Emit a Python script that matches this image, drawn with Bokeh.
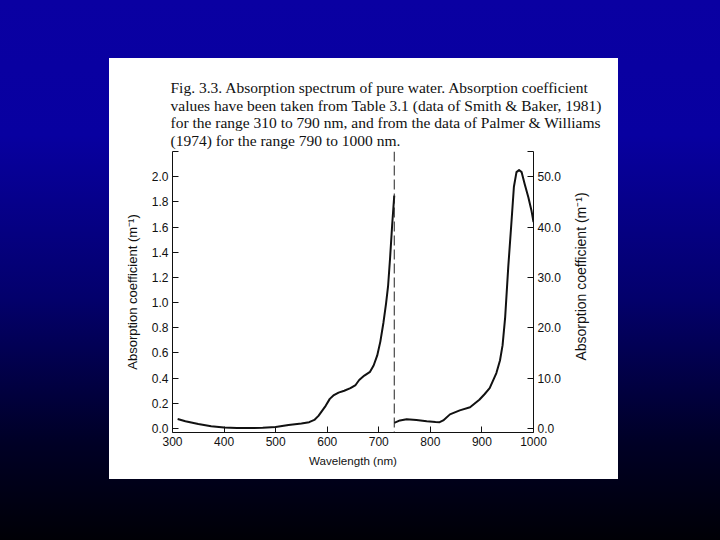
import math
from bokeh.plotting import figure
from bokeh.models import (Range1d, LinearAxis, FixedTicker, PrintfTickFormatter,
                          Span, Spacer, GlobalInlineStyleSheet)
from bokeh.core.properties import value
from bokeh.layouts import column, row
from bokeh.embed import file_html
from bokeh.resources import INLINE

# ---------------- data ----------------
caption_lines = [
    "Fig. 3.3. Absorption spectrum of pure water. Absorption coefficient",
    "values have been taken from Table 3.1 (data of Smith & Baker, 1981)",
    "for the range 310 to 790 nm, and from the data of Palmer & Williams",
    "(1974) for the range 790 to 1000 nm.",
]

# left section (left axis, m^-1)
wl_left = [310, 325, 350, 375, 400, 425, 450, 475, 500, 525, 550, 565, 575, 583,
           590, 597, 605, 613, 622, 633, 645, 655, 662, 672, 683, 690, 697, 703,
           709, 714, 718, 722, 726, 730]
abs_left = [0.075, 0.058, 0.035, 0.018, 0.008, 0.004, 0.003, 0.005, 0.012, 0.028,
            0.040, 0.050, 0.068, 0.100, 0.140, 0.180, 0.235, 0.265, 0.285, 0.300,
            0.320, 0.345, 0.385, 0.420, 0.450, 0.500, 0.580, 0.690, 0.840, 0.990,
            1.130, 1.360, 1.620, 1.850]

# right section (right axis, m^-1)
wl_right = [730, 741, 754, 773, 793, 810, 818, 825, 838, 857, 877, 895, 905, 915,
            928, 935, 940, 945, 951, 957, 962, 967, 972, 977, 983, 990, 996, 1000]
abs_right = [1.1, 1.6, 1.85, 1.7, 1.45, 1.3, 1.25, 1.6, 2.8, 3.6, 4.2, 5.7, 6.8, 8.0,
             11.0, 13.5, 16.5, 22.0, 32.0, 40.6, 48.0, 50.9, 51.3, 50.9, 48.5, 45.9,
             43.3, 41.0]

left_ticks = [0.0, 0.2, 0.4, 0.6, 0.8, 1.0, 1.2, 1.4, 1.6, 1.8, 2.0, 2.2]
right_ticks = [0.0, 10.0, 20.0, 30.0, 40.0, 50.0, 55.0]
x_ticks = [300, 400, 500, 600, 700, 800, 900, 1000]
divider_nm = 730

x_label = "Wavelength (nm)"
y_label = "Absorption coefficient (m\u207b\u00b9)"

# ---------------- styling constants ----------------
SANS = "Liberation Sans"
SERIF = "Liberation Serif"
INK = "#111111"
PANEL_W = 509
CAP_H = 93
PLOT_H = 328
RIGHT_STRIP_W = 48


def no_align(fig):
    if "frame_align" in fig.properties():
        fig.frame_align = False


# ---------------- caption strip ----------------
cap = figure(width=PANEL_W, height=CAP_H, x_range=Range1d(0, PANEL_W),
             y_range=Range1d(0, CAP_H), output_backend="svg", toolbar_location=None,
             x_axis_location=None, y_axis_location=None, min_border=0,
             background_fill_color="white", border_fill_color="white")
cap.outline_line_color = None
cap.grid.visible = False
no_align(cap)
cap_x0, cap_first_baseline, cap_step = 61, 28.7, 17.8
cap.text(x=[cap_x0] * len(caption_lines),
         y=[CAP_H - (cap_first_baseline + i * cap_step) for i in range(len(caption_lines))],
         text=caption_lines, text_font=value(SERIF), text_font_size="15.5px",
         text_color=INK, text_align="left", text_baseline="alphabetic")

# ---------------- main chart ----------------
p = figure(width=PANEL_W - RIGHT_STRIP_W, height=PLOT_H,
           x_range=Range1d(300, 1000), y_range=Range1d(-0.032, 2.2),
           output_backend="svg", toolbar_location=None,
           min_border_left=63, min_border_right=37,
           min_border_top=0, min_border_bottom=47,
           background_fill_color="white", border_fill_color="white")
p.outline_line_color = None
p.extra_y_ranges = {"right": Range1d(-0.8, 55.0)}
p.xgrid.grid_line_color = None
p.ygrid.grid_line_color = None
p.grid.visible = False
no_align(p)


def style_axis(ax):
    ax.axis_line_color = INK
    ax.axis_line_width = 1
    ax.major_tick_line_color = INK
    ax.major_tick_in = 6
    ax.major_tick_out = 0
    ax.minor_tick_line_color = None
    ax.major_label_text_font = SANS
    ax.major_label_text_font_size = "12px"
    ax.major_label_text_color = INK
    ax.major_label_standoff = 4
    ax.axis_label_text_font = SANS
    ax.axis_label_text_font_style = "normal"
    ax.axis_label_text_color = INK


xa = p.xaxis[0]
style_axis(xa)
xa.ticker = FixedTicker(ticks=x_ticks)
xa.axis_label = x_label
xa.axis_label_text_font_size = "11.6px"
xa.axis_label_standoff = 5

ya = p.yaxis[0]
style_axis(ya)
ya.ticker = FixedTicker(ticks=left_ticks)
ya.formatter = PrintfTickFormatter(format="%.1f")
ya.major_label_overrides = {2.2: ""}
ya.axis_label = y_label
ya.axis_label_text_font_size = "13px"
ya.axis_label_standoff = 9

ra = LinearAxis(y_range_name="right")
style_axis(ra)
ra.ticker = FixedTicker(ticks=right_ticks)
ra.formatter = PrintfTickFormatter(format="%.1f")
ra.major_label_overrides = {55.0: ""}
p.add_layout(ra, "right")

p.line(wl_left, abs_left, line_width=2, line_color=INK, line_join="round")
p.line(wl_right, abs_right, y_range_name="right", line_width=2, line_color=INK,
       line_join="round")

p.add_layout(Span(location=divider_nm, dimension="height", line_color="#222222",
                  line_width=1, line_dash="10 4"))

# ---------------- strip holding the right-hand axis title ----------------
q = figure(width=RIGHT_STRIP_W, height=PLOT_H, x_range=Range1d(0, RIGHT_STRIP_W),
           y_range=Range1d(0, PLOT_H), output_backend="svg", toolbar_location=None,
           x_axis_location=None, y_axis_location=None, min_border=0,
           background_fill_color="white", border_fill_color="white")
q.outline_line_color = None
q.grid.visible = False
no_align(q)
q.text(x=[10], y=[203], text=[y_label], angle=math.pi / 2,
       text_font=value(SANS), text_font_size="14px", text_color=INK,
       text_align="center", text_baseline="middle")

bg = GlobalInlineStyleSheet(css=(
    "html{height:100%;background:linear-gradient(to bottom,#0a00a2 0%,#0800a0 25%,"
    "#03006c 55%,#000026 82%,#000006 100%) no-repeat;}"
    "body{background:transparent;}"))

inner = column(cap, row(p, q), styles={"background-color": "white"})
page = column(Spacer(height=58), row(Spacer(width=109), inner), stylesheets=[bg])

open("out.html", "w").write(file_html(page, INLINE))
